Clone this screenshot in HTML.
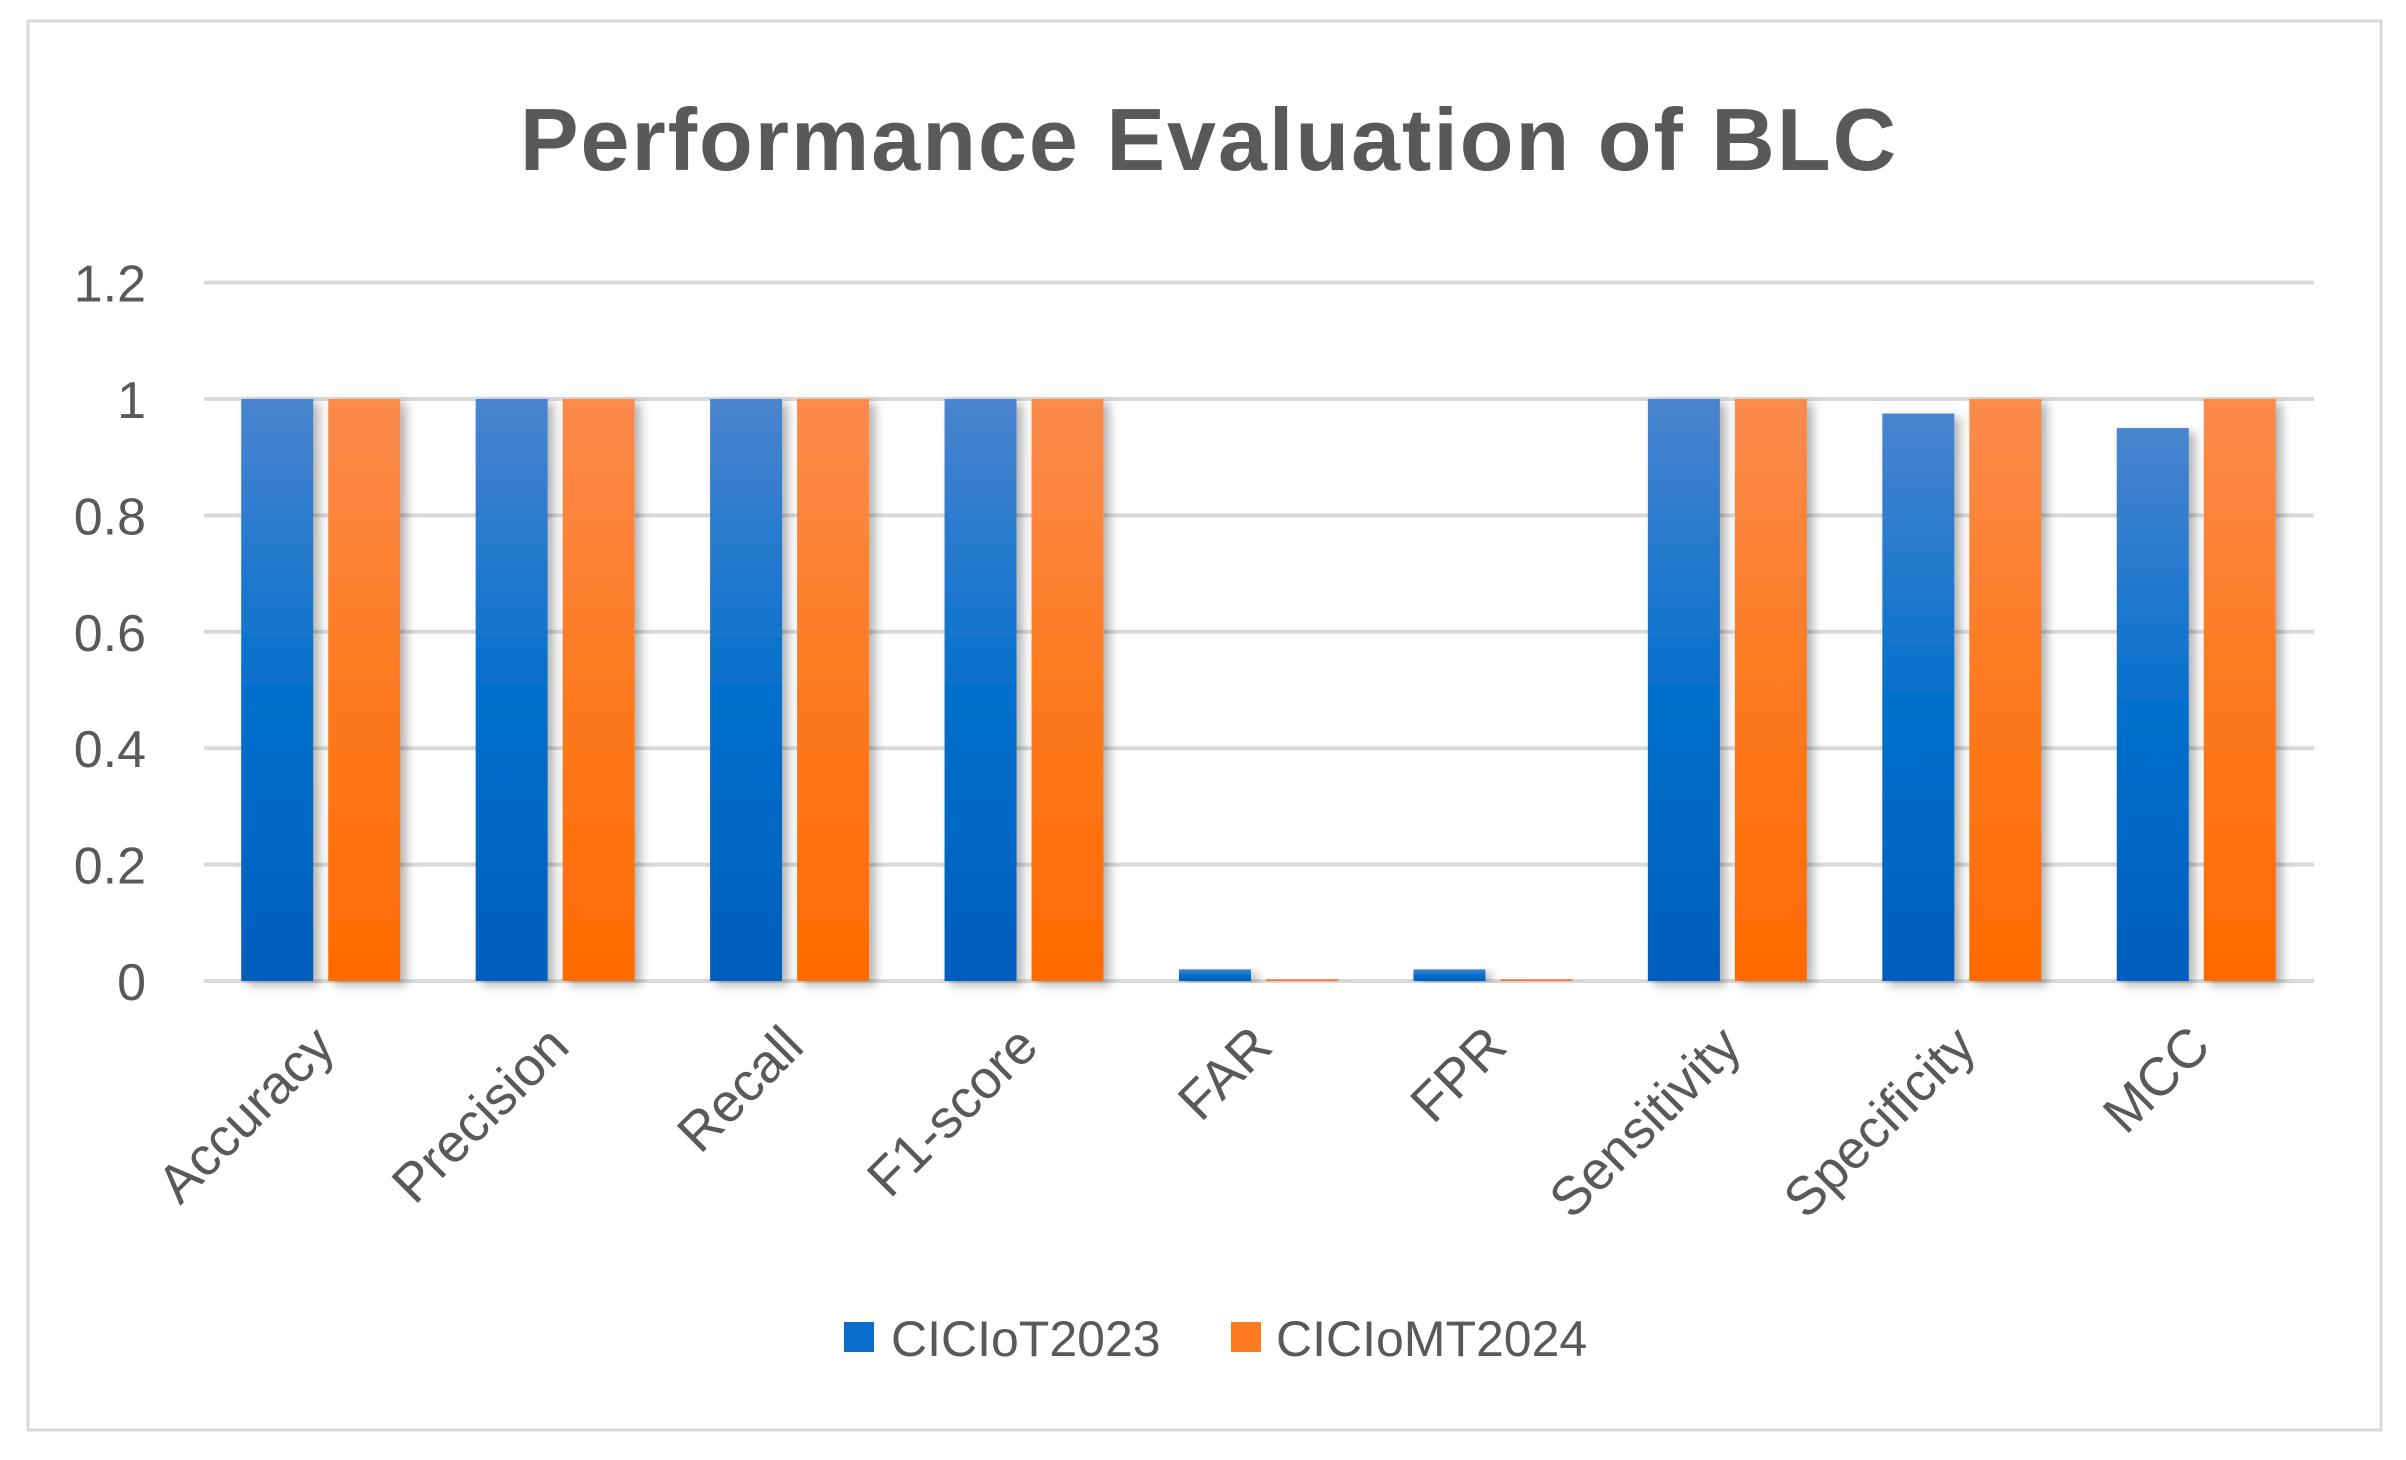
<!DOCTYPE html>
<html><head><meta charset="utf-8"><style>
html,body{margin:0;padding:0;background:#fff;}
svg{display:block;font-family:"Liberation Sans",sans-serif;}
</style></head><body>
<svg id="chart" width="2406" height="1460" viewBox="0 0 2406 1460">
<defs>
<linearGradient id="gBlue" x1="0" y1="0" x2="0" y2="1"><stop offset="0" stop-color="#4a84cf"/><stop offset="0.5" stop-color="#0570cc"/><stop offset="1" stop-color="#005ebd"/></linearGradient>
<linearGradient id="gOrange" x1="0" y1="0" x2="0" y2="1"><stop offset="0" stop-color="#fb8b4c"/><stop offset="0.5" stop-color="#fd7a20"/><stop offset="1" stop-color="#ff6a00"/></linearGradient>
<filter id="sh" x="-30%" y="-5%" width="170%" height="115%"><feDropShadow dx="6" dy="4" stdDeviation="5" flood-color="#000" flood-opacity="0.3"/></filter>
</defs>
<rect x="28" y="21" width="2353" height="1409" fill="#fff" stroke="#d9d9d9" stroke-width="3"/>
<text x="1209" y="170" text-anchor="middle" font-size="88" font-weight="bold" letter-spacing="2" fill="#595959">Performance Evaluation of BLC</text>
<g id="grid"></g><g id="bars"></g><g id="labels"></g>
<g>
<rect x="844" y="1322" width="30" height="30" fill="#0a6ccb"/>
<text x="891" y="1356" font-size="50" fill="#595959">CICIoT2023</text>
<rect x="1231" y="1322" width="30" height="30" fill="#fd7a22"/>
<text x="1276" y="1356" font-size="50" fill="#595959">CICIoMT2024</text>
</g>
</svg>
<script>
const categories = ["Accuracy","Precision","Recall","F1-score","FAR","FPR","Sensitivity","Specificity","MCC"];
const seriesA = [1,1,1,1,0.02,0.02,1,0.975,0.95];
const seriesB = [1,1,1,1,0.003,0.003,1,1,1];
const ticks = [0,0.2,0.4,0.6,0.8,1,1.2];
const tickLabels = ["0","0.2","0.4","0.6","0.8","1","1.2"];
const NS="http://www.w3.org/2000/svg";
const L=204,R=2314,Y0=981,Y1=399;
const y=v=>Y0-(Y1-Y0)*-v;
const bw=(R-L)/categories.length;
const xc=i=>L+bw*(i+0.5);
function mk(t,a,p){const e=document.createElementNS(NS,t);for(const k in a)e.setAttribute(k,a[k]);p.appendChild(e);return e;}
const grid=document.getElementById('grid'),bars=document.getElementById('bars'),labels=document.getElementById('labels');
ticks.forEach((t,i)=>{
  const ln=mk('line',{x1:L,x2:R,y1:y(t),y2:y(t),stroke:'#d9d9d9','stroke-width':4},grid);
  
  
  const tx=mk('text',{x:146,y:y(t)+19,'text-anchor':'end','font-size':52,fill:'#595959'},grid);
  tx.textContent=tickLabels[i];
  
  
});
categories.forEach((c,i)=>{
  const cx=xc(i);
  const hA=Y0-y(seriesA[i]);
  const a=mk('rect',{x:cx-80,y:y(seriesA[i]),width:72,height:Math.max(hA,1),fill:'url(#gBlue)',filter:'url(#sh)'},bars);
  
  
  const hB=Y0-y(seriesB[i]);
  const b=mk('rect',{x:cx+7,y:y(seriesB[i]),width:72,height:Math.max(hB,1),fill:'url(#gOrange)',filter:'url(#sh)'},bars);
  
  
  const lx=cx+16, ly=Y0+68;
  const tx=mk('text',{x:lx,y:ly,'text-anchor':'end','font-size':54,fill:'#595959',transform:`rotate(-45 ${lx} ${ly})`},labels);
  tx.textContent=c;
  
  
});
</script>
</body></html>
